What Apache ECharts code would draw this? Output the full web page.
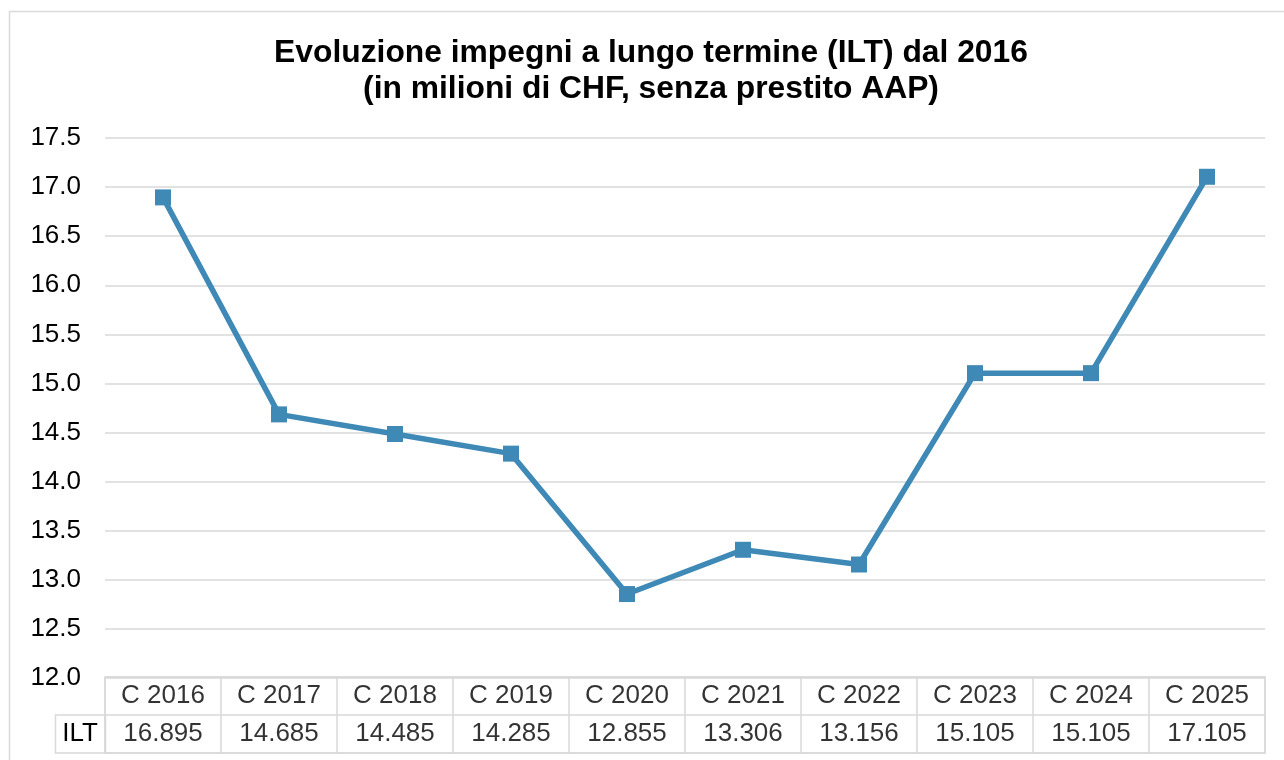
<!DOCTYPE html>
<html>
<head>
<meta charset="utf-8">
<script src="https://cdn.jsdelivr.net/npm/echarts@6/dist/echarts.min.js"></script>
<style>
  html, body { margin: 0; padding: 0; background: #fff; }
  #chart { width: 1284px; height: 760px; }
</style>
</head>
<body>
<div id="chart"></div>
<script>
const categories = ['C 2016', 'C 2017', 'C 2018', 'C 2019', 'C 2020', 'C 2021', 'C 2022', 'C 2023', 'C 2024', 'C 2025']
const ilt = [16.895, 14.685, 14.485, 14.285, 12.855, 13.306, 13.156, 15.105, 15.105, 17.105]
const seriesName = 'ILT'

const LINE_COLOR = '#3f89b7'
const GRID_COLOR = '#d9d9d9'
const FONT = '"Liberation Sans", Arial, sans-serif'

const chart = echarts.init(document.getElementById('chart'))

// table cells: header row + value row, placed on the table grid
const headerCells = categories.map((c, i) => ({ value: [i, 0], label: c }))
const valueCells = ilt.map((v, i) => ({ value: [i, 1], label: v.toFixed(3) }))

const option = {
  animation: false,
  backgroundColor: '#fff',
  title: {
    text: 'Evoluzione impegni a lungo termine (ILT) dal 2016\n(in milioni di CHF, senza prestito AAP)',
    left: 646,
    top: 30,
    textAlign: 'center',
    textStyle: {
      fontFamily: FONT,
      fontSize: 31.8,
      fontWeight: 'bold',
      color: '#000',
      lineHeight: 36
    }
  },
  graphic: [
    // outer chart frame
    {
      type: 'rect',
      shape: { x: 9.5, y: 11.5, width: 1300, height: 800 },
      style: { fill: 'none', stroke: GRID_COLOR, lineWidth: 1.5 },
      silent: true
    },
    // ILT row header cell
    {
      type: 'rect',
      shape: { x: 55.5, y: 715, width: 50, height: 38 },
      style: { fill: 'none', stroke: GRID_COLOR, lineWidth: 1.5 },
      silent: true
    }
  ],
  grid: [
    { left: 105, right: 19, top: 138, bottom: 82 },
    { left: 105, right: 19, top: 677, bottom: 7, show: true, borderColor: GRID_COLOR, borderWidth: 1.5 }
  ],
  xAxis: [
    {
      gridIndex: 0,
      type: 'category',
      data: categories,
      boundaryGap: true,
      axisLine: { show: false },
      axisTick: { show: false },
      axisLabel: { show: false }
    },
    {
      gridIndex: 1,
      type: 'category',
      data: categories,
      boundaryGap: true,
      axisLine: { show: false },
      axisTick: { show: false },
      axisLabel: { show: false },
      splitLine: { show: true, interval: 0, lineStyle: { color: GRID_COLOR, width: 1.5 } }
    }
  ],
  yAxis: [
    {
      gridIndex: 0,
      type: 'value',
      min: 12,
      max: 17.5,
      interval: 0.5,
      axisLine: { show: false },
      axisTick: { show: false },
      axisLabel: {
        formatter: v => v.toFixed(1),
        fontFamily: FONT,
        fontSize: 26,
        color: '#000',
        margin: 24
      },
      splitLine: { lineStyle: { color: GRID_COLOR, width: 1.5 } }
    },
    {
      gridIndex: 1,
      type: 'category',
      data: ['', seriesName],
      inverse: true,
      boundaryGap: true,
      axisLine: { show: false },
      axisTick: { show: false },
      axisLabel: {
        fontFamily: FONT,
        fontSize: 26,
        color: '#000',
        margin: 7
      },
      splitLine: { show: true, interval: 0, lineStyle: { color: GRID_COLOR, width: 1.5 } }
    }
  ],
  series: [
    {
      name: seriesName,
      type: 'line',
      xAxisIndex: 0,
      yAxisIndex: 0,
      data: ilt,
      symbol: 'rect',
      symbolSize: 16,
      lineStyle: { color: LINE_COLOR, width: 5.5 },
      itemStyle: { color: LINE_COLOR }
    },
    {
      type: 'scatter',
      xAxisIndex: 1,
      yAxisIndex: 1,
      symbolSize: 0,
      data: headerCells.concat(valueCells),
      label: {
        show: true,
        position: 'inside',
        formatter: p => p.data.label,
        fontFamily: FONT,
        fontSize: 26,
        color: '#000'
      },
      silent: true
    }
  ]
}

chart.setOption(option)
</script>
</body>
</html>
